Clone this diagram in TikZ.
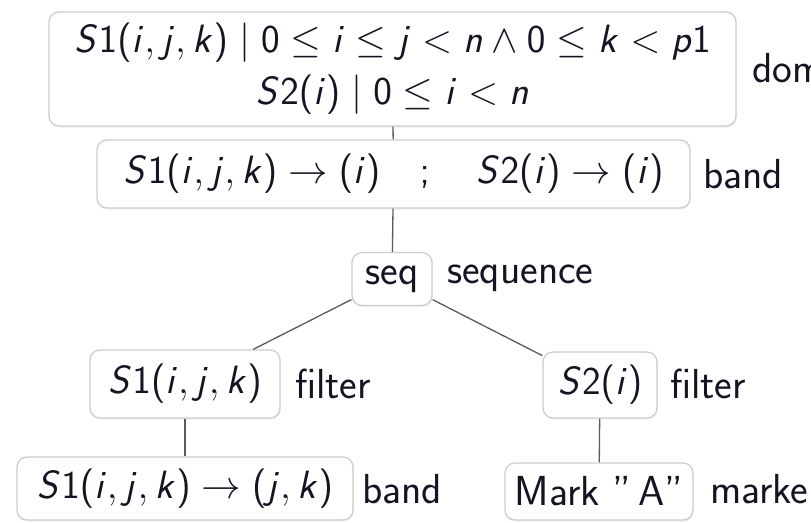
\RequirePackage{fix-cm}
\documentclass[tikz,border=0pt]{standalone}
\usepackage{graphicx}
\usetikzlibrary{shadows}
\DeclareSymbolFont{sfletters}{OT1}{cmss}{m}{sl}
\SetSymbolFont{operators}{normal}{OT1}{cmss}{m}{n}
\DeclareMathSymbol{S}{\mathalpha}{sfletters}{`S}
\DeclareMathSymbol{i}{\mathalpha}{sfletters}{`i}
\DeclareMathSymbol{j}{\mathalpha}{sfletters}{`j}
\DeclareMathSymbol{k}{\mathalpha}{sfletters}{`k}
\DeclareMathSymbol{n}{\mathalpha}{sfletters}{`n}
\DeclareMathSymbol{p}{\mathalpha}{sfletters}{`p}
\definecolor{boxgray}{RGB}{205,205,205}
\definecolor{linegray}{RGB}{90,90,90}
\definecolor{txt}{RGB}{20,20,35}
\begin{document}
\begin{tikzpicture}[x=1pt,y=-1pt,
  font=\fontsize{42}{48}\selectfont\sffamily,
  text=txt,
  box/.style={draw=boxgray, line width=1.3pt, rounded corners=10pt, fill=white, inner sep=0pt,
    drop shadow={opacity=0.12, shadow xshift=0.8pt, shadow yshift=-1.6pt}},
  mathbox/.style={box, font=\fontsize{39.5}{52}\selectfont\sffamily},
  lab/.style={anchor=base west, inner sep=0pt},
  conn/.style={draw=linegray, line width=1.3pt}]
\useasboundingbox (0,0) rectangle (811,522);
\coordinate (cdom) at (392.5,69);
\coordinate (cband) at (393.5,174);
\coordinate (cseq) at (392,279);
\coordinate (cf1) at (185,384);
\coordinate (cf2) at (600,385);
\coordinate (cb2) at (185,488.5);
\coordinate (cmk) at (599,491.5);
\node[mathbox, minimum width=687pt, minimum height=114pt, align=center] (dom) at (cdom)
  {$S1(i,j,k) \mid 0 \le i \le j < n \land 0 \le k < p1$\\$S2(i) \mid 0 \le i < n$};
\node[mathbox, minimum width=593pt, minimum height=68pt] (band) at (cband)
  {$S1(i,j,k) \rightarrow (i) \quad ; \quad S2(i) \rightarrow (i)$};
\node[box, minimum width=80pt, minimum height=53pt] (seq) at (cseq) {seq};
\node[mathbox, minimum width=190pt, minimum height=68pt] (f1) at (cf1) {$S1(i,j,k)$};
\node[mathbox, minimum width=114pt, minimum height=66pt] (f2) at (cf2) {$S2(i)$};
\node[mathbox, minimum width=336pt, minimum height=63pt] (b2) at (cb2) {$S1(i,j,k) \rightarrow (j,k)$};
\node[box, minimum width=188pt, minimum height=57pt] (mk) at (cmk) {Mark "\,A"};
\draw[conn] (dom) -- (band);
\draw[conn] (band) -- (seq);
\draw[conn] (seq) -- (f1);
\draw[conn] (seq) -- (f2);
\draw[conn] (f1) -- (b2);
\draw[conn] (f2) -- (mk);
\node[lab] (ldom) at (752,82) {dom};
\node[lab] (lband) at (703,188) {band};
\node[lab] (lseq) at (447,283) {sequence};
\node[lab] (lf1) at (295,398) {filter};
\node[lab] (lf2) at (670,398) {filter};
\node[lab] (lb2) at (362,503) {band};
\node[lab] (lmk) at (710,503) {marke};
\end{tikzpicture}
\end{document}
